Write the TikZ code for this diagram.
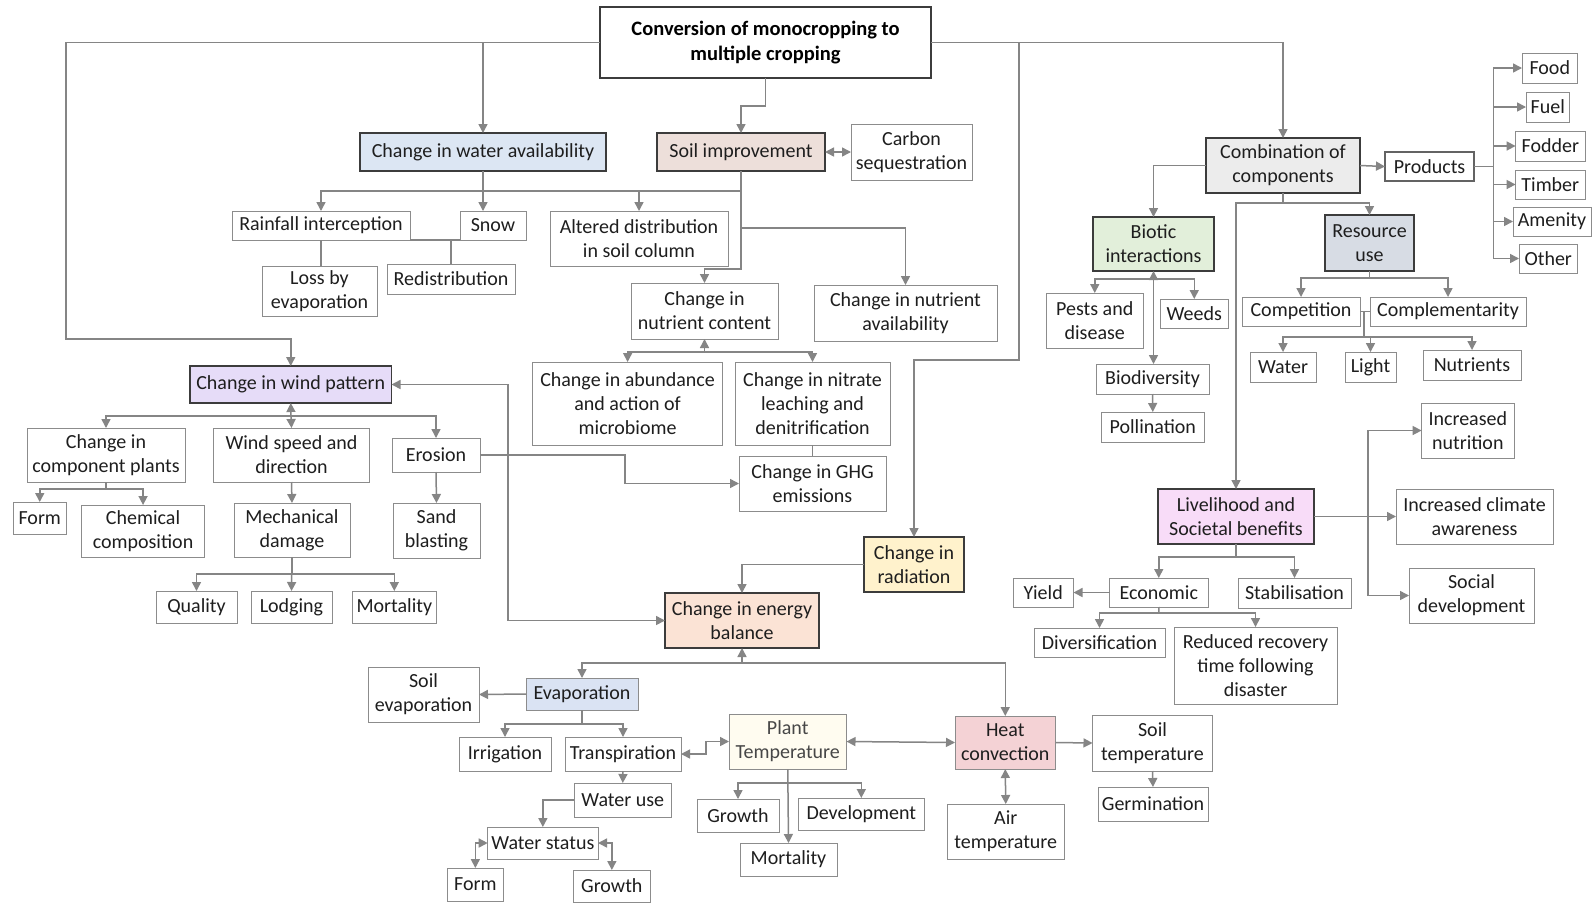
\documentclass[tikz,border=0pt]{standalone}
\usepackage{fontspec}
\setmainfont{Carlito}
\usetikzlibrary{arrows.meta}
\definecolor{lncol}{HTML}{858585}
\definecolor{bord}{HTML}{8C8C8C}
\definecolor{dbord}{HTML}{3C3C3C}
\definecolor{txt}{HTML}{1E1E1E}
\definecolor{wafill}{HTML}{DCE6F3}
\definecolor{soilfill}{HTML}{EDDFDA}
\definecolor{windfill}{HTML}{E6DCF8}
\definecolor{combfill}{HTML}{ECECEC}
\definecolor{biofill}{HTML}{E2EFDA}
\definecolor{resfill}{HTML}{D7DCE4}
\definecolor{livfill}{HTML}{F8DCF8}
\definecolor{radfill}{HTML}{FFF2CC}
\definecolor{ebfill}{HTML}{FBE3D5}
\definecolor{evfill}{HTML}{DAE3F3}
\definecolor{ptfill}{HTML}{FFFCF0}
\definecolor{heatfill}{HTML}{F4D2D5}
\newcommand\bx[7][]{\node[box,#1,minimum width={#5-#3},minimum height={#6-#4}] (#2) at ({(#3+#5)/2},{(#4+#6)/2}) {#7};}
\begin{document}
\begin{tikzpicture}[x=1pt,y=-1pt,
  box/.style={draw=bord,line width=1pt,fill=white,inner sep=0pt,outer sep=0pt,align=center,
    font=\fontsize{20}{24}\selectfont,text=txt},
  cbox/.style={box,draw=dbord,line width=1.1pt},
  conn/.style={draw=lncol,line width=1.5pt},
  arr/.style={conn,-{Triangle[length=9pt,width=9pt]}},
  darr/.style={conn,{Triangle[length=9pt,width=9pt]}-{Triangle[length=9pt,width=9pt]}}]
\fill[white] (0,0) rectangle (1592,903);
\useasboundingbox (0,0) rectangle (1592,903);

% ---------- boxes ----------
\bx[cbox,font=\fontsize{20.5}{25}\selectfont\bfseries,text=black]{title}{600}{7}{931}{78}{Conversion of monocropping to\\multiple cropping}
\bx[cbox,fill=wafill]{wa}{360}{133}{606}{171}{Change in water availability}
\bx[cbox,fill=soilfill]{soil}{657}{133}{825}{171}{Soil improvement}
\bx{carbon}{851}{124}{972}{180}{Carbon\\sequestration}
\bx{rain}{232}{211}{410}{240}{Rainfall interception}
\bx{snow}{460}{211}{526}{240}{Snow}
\bx{loss}{262}{266}{377}{316}{Loss by\\evaporation}
\bx{redis}{387}{264}{515}{294}{Redistribution}
\bx{altered}{550}{211}{728}{266}{Altered distribution\\in soil column}
\bx{nc}{631}{283}{778}{339}{Change in\\nutrient content}
\bx{na}{814}{285}{997}{341}{Change in nutrient\\availability}
\bx[cbox,fill=windfill]{wind}{190}{366}{391.5}{403}{Change in wind pattern}
\bx{cp}{27}{428}{185}{482}{Change in\\component plants}
\bx{ws}{213.5}{428}{369.5}{482}{Wind speed and\\direction}
\bx{eros}{392}{438}{480}{472}{Erosion}
\bx{formA}{13}{502}{66.5}{534}{Form}
\bx{chem}{81.6}{505}{204.5}{557}{Chemical\\composition}
\bx{mech}{234}{503}{350}{557}{Mechanical\\damage}
\bx{sand}{393}{503}{480}{558}{Sand\\blasting}
\bx{qual}{156}{591}{237}{623}{Quality}
\bx{lodg}{251}{591}{332}{623}{Lodging}
\bx{mortW}{352}{591}{436.6}{623}{Mortality}
\bx{micro}{532.7}{362}{722.5}{445}{Change in abundance\\and action of\\microbiome}
\bx{nitr}{735}{362}{890}{445}{Change in nitrate\\leaching and\\denitrification}
\bx{ghg}{739}{456}{886}{511}{Change in GHG\\emissions}
\bx[cbox,fill=radfill]{rad}{864}{537}{964}{592}{Change in\\radiation}
\bx[cbox,fill=ebfill]{eb}{665}{593}{819}{648}{Change in energy\\balance}
\bx{soilev}{368}{667}{479}{722}{Soil\\evaporation}
\bx[box,fill=evfill]{evap}{526}{678}{638}{710}{Evaporation}
\bx{irrig}{459}{737}{551}{771}{Irrigation}
\bx{transp}{565}{737}{681}{771}{Transpiration}
\bx[fill=ptfill,text=black!72]{plant}{729}{714}{846.5}{769}{Plant\\Temperature}
\bx[box,fill=heatfill]{heat}{955}{716}{1055.5}{769}{Heat\\convection}
\bx{soilt}{1092.5}{715}{1212.5}{771}{Soil\\temperature}
\bx{germ}{1098}{787}{1208}{821}{Germination}
\bx{air}{947}{804}{1064.5}{859}{Air\\temperature}
\bx{growP}{697}{799}{779}{832}{Growth}
\bx{devel}{798}{798}{924.6}{830}{Development}
\bx{mortP}{740}{843}{837}{876}{Mortality}
\bx{wu}{574}{783}{671.5}{817}{Water use}
\bx{wst}{487.7}{827}{598}{859}{Water status}
\bx{formB}{447.7}{868}{503}{901}{Form}
\bx{growB}{573.7}{870}{650}{902}{Growth}
\bx[cbox,fill=combfill]{comb}{1206}{138}{1360}{193}{Combination of\\components}
\bx[cbox,fill=biofill]{biotic}{1093}{217}{1214}{271}{Biotic\\interactions}
\bx[cbox,fill=resfill]{res}{1325}{215}{1414}{271}{Resource\\use}
\bx[cbox,draw=dbord!80]{prod}{1385}{152}{1474}{181}{Products}
\bx{food}{1522}{53}{1577.5}{83}{Food}
\bx{fuel}{1526}{92}{1569.5}{122}{Fuel}
\bx{fodder}{1515.6}{131}{1585}{161}{Fodder}
\bx{timber}{1515.6}{170}{1585}{199}{Timber}
\bx{amen}{1513}{207}{1591}{236}{Amenity}
\bx{other}{1519}{244}{1577.5}{273}{Other}
\bx{pests}{1046.5}{293}{1143}{348}{Pests and\\disease}
\bx{weeds}{1160.5}{299}{1228}{328}{Weeds}
\bx{biodiv}{1096}{364}{1209}{394}{Biodiversity}
\bx{poll}{1101.6}{412}{1204}{442}{Pollination}
\bx{comp}{1242}{297}{1360}{326}{Competition}
\bx{compl}{1370}{297}{1526}{326}{Complementarity}
\bx{water}{1250}{352}{1316}{382}{Water}
\bx{light}{1345}{352}{1396}{382}{Light}
\bx{nutrs}{1423}{350}{1521}{380}{Nutrients}
\bx{nutr}{1421.6}{403}{1514}{458}{Increased\\nutrition}
\bx[cbox,fill=livfill]{liv}{1158}{489}{1314}{544}{Livelihood and\\Societal benefits}
\bx{clim}{1396}{489}{1553}{544}{Increased climate\\awareness}
\bx{social}{1409}{568}{1534}{623}{Social\\development}
\bx{econ}{1109.5}{578}{1208}{607}{Economic}
\bx{stab}{1238}{578}{1351}{608}{Stabilisation}
\bx{yield}{1013}{578}{1073.5}{607}{Yield}
\bx{divers}{1034}{628}{1165}{657}{Diversification}
\bx{reduced}{1174}{627}{1337}{704}{Reduced recovery\\time following\\disaster}

% ---------- junction coordinates ----------
\coordinate (jA) at (66,339);
\coordinate (jR) at (1019,42.5);
\coordinate (h1) at (741,191);
\coordinate (h2) at (291,416);
\coordinate (h3) at (704.5,352);
\coordinate (h4) at (742,663);
\coordinate (h5) at (787.6,783);
\coordinate (h6) at (1283,203);
\coordinate (h7) at (1493.5,166.5);
\coordinate (h8) at (1153.5,279);
\coordinate (h9) at (1369.5,278);
\coordinate (h10) at (1364,311.5);
\coordinate (h11) at (1364,337);
\coordinate (h12) at (1236,557);
\coordinate (h13) at (1159,613);
\coordinate (h14) at (1368,516.5);
\coordinate (h15) at (508,384.5);

% ---------- connectors ----------
\draw[arr] (title.west) -| (jA) -| (wind.north);
\draw[arr] (title.west -| wa.north) -- (wa.north);
\draw[arr] (title.east) -| (comb.north);
\draw[arr] (jR) -- (1019,360) -| (rad.north);
\draw[arr] (title.south) -- ++(0,28) -| (soil.north);
\draw[darr] (soil.east) -- (carbon.west);
\draw[arr] (wa.south) -- (wa.south |- snow.north);
\draw[arr] (soil.south) -- (h1) -| (rain.north);
\draw[arr] (altered.north |- h1) -- (altered.north);
\draw[arr] (soil.south) -- (741,269) -| (nc.north);
\draw[arr] (741,228) -| (na.north);
\draw[conn] (rain.south) -- (rain.south |- loss.north);
\draw[conn] (rain.south east) -- (snow.south west);
\draw[conn] (redis.north |- rain.south) -- (redis.north);

\draw[arr] (h2) -- (wind.south);
\draw[arr] (h2) -- (ws.north);
\draw[arr] (h2) -| (cp.north);
\draw[arr] (h2) -| (eros.north);
\draw[darr] (eb.west) -| (h15) -- (wind.east);
\draw[arr] (cp.south) -- ++(0,7) -| (formA.north);
\draw[arr] (cp.south) -- ++(0,7) -| (chem.north);
\draw[arr] (ws.south) -- (mech.north);
\draw[arr] (mech.south) -- ++(0,17) -| (qual.north);
\draw[arr] (mech.south) -- (lodg.north);
\draw[arr] (mech.south) -- ++(0,17) -| (mortW.north);
\draw[arr] (eros.south) -- (sand.north);
\draw[arr] (eros.east) -- ++(145,0) |- (ghg.west);
\draw[arr] (h3) -- (nc.south);
\draw[arr] (h3) -| (micro.north);
\draw[arr] (h3) -| (nitr.north);
\draw[conn] (nitr.south) -- (ghg.north);
\draw[arr] (rad.west) -| (eb.north);

\draw[arr] (h4) -- (eb.south);
\draw[arr] (h4) -| (evap.north);
\draw[arr] (h4) -| (heat.north);
\draw[arr] (evap.west) -- (soilev.east);
\draw[arr] (evap.south) -- ++(0,14) -| (irrig.north);
\draw[arr] (evap.south) -- ++(0,14) -| (transp.north);
\draw[darr] (transp.east) -- ++(25,0) |- (plant.west);
\draw[darr] (plant.east) -- (heat.west);
\draw[darr] (heat.south) -- (air.north);
\draw[arr] (heat.east) -- (soilt.west);
\draw[arr] (soilt.south) -- (germ.north);
\draw[arr] (plant.south) -- (mortP.north);
\draw[arr] (h5) -| (growP.north);
\draw[arr] (h5) -| (devel.north);
\draw[arr] (transp.south) -- (wu.north);
\draw[arr] (wu.west) -| (wst.north);
\draw[darr] (wst.west) -| (formB.north);
\draw[darr] (wst.east) -| (growB.north);

\draw[arr] (comb.west) -| (biotic.north);
\draw[conn] (comb.south) -- (h6);
\draw[arr] (h6) -| (res.north);
\draw[arr] (h6) -| (liv.north);
\draw[arr] (comb.east) -- (prod.west);
\draw[conn] (prod.east) -- (h7);
\foreach \t in {food,fuel,fodder,timber,amen,other}
  \draw[arr] (h7) |- (\t.west);
\draw[darr] (biotic.south) -- (biotic.south |- biodiv.north);
\draw[arr] (h8) -| (pests.north);
\draw[arr] (h8) -| (weeds.north);
\draw[arr] (biodiv.south) -- (poll.north);
\draw[conn] (res.south) -- (h9);
\draw[arr] (h9) -| (comp.north);
\draw[arr] (h9) -| (compl.north);
\draw[conn] (comp.east) -- (compl.west);
\draw[conn] (h10) -- (h11);
\draw[arr] (h11) -| (water.north);
\draw[arr] (h11) -| (light.north);
\draw[arr] (h11) -| (nutrs.north);
\draw[arr] (liv.east) -- (clim.west);
\draw[arr] (h14) |- (nutr.west);
\draw[arr] (h14) |- (social.west);
\draw[conn] (liv.south) -- (h12);
\draw[arr] (h12) -| (econ.north);
\draw[arr] (h12) -| (stab.north);
\draw[arr] (econ.west) -- (yield.east);
\draw[conn] (econ.south) -- (h13);
\draw[arr] (h13) -| (divers.north);
\draw[arr] (h13) -| (reduced.north);
\end{tikzpicture}
\end{document}
